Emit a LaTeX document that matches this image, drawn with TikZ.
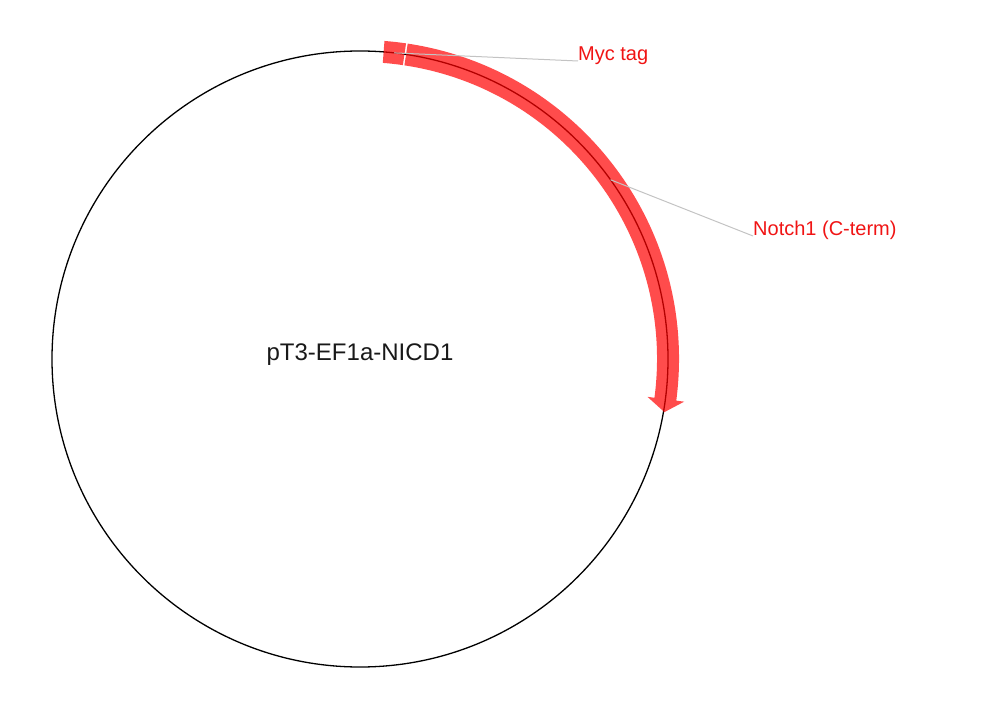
\documentclass[tikz,border=0pt]{standalone}
\usepackage{fontspec}
\setmainfont{Liberation Sans}
\definecolor{featred}{RGB}{255,0,0}
\definecolor{leadgray}{RGB}{195,195,195}
\definecolor{labred}{RGB}{240,20,20}
\begin{document}
\begin{tikzpicture}[x=1pt,y=1pt,
  backbone/.style={draw=black,line width=1.3pt},
  feature/.style={fill=featred,fill opacity=0.7,draw=none},
  leader/.style={draw=leadgray,line width=1pt},
  featlabel/.style={text=labred,font=\fontsize{20}{24}\selectfont,anchor=base west,inner sep=0pt},
  titlelabel/.style={text=black!90,font=\fontsize{24}{28}\selectfont,anchor=base,inner sep=0pt}]
\useasboundingbox (0,0) rectangle (981,726);
\coordinate (c) at (360,367);
\draw[backbone] (c) circle[radius=308];
% Myc tag segment
\fill[feature] ([shift={(85.6:297)}]c) arc[start angle=85.6,end angle=81.7,radius=297]
  -- ([shift={(81.7:319)}]c) arc[start angle=81.7,end angle=85.6,radius=319] -- cycle;
% Notch1 arrow
\fill[feature] ([shift={(81.4:319)}]c) arc[start angle=81.4,end angle=-7.5,radius=319]
  -- ([shift={(-7.5:327)}]c) -- ([shift={(-9.9:309)}]c) -- ([shift={(-7.5:290)}]c)
  -- ([shift={(-7.5:297)}]c) arc[start angle=-7.5,end angle=81.4,radius=297] -- cycle;
% leaders and labels
\coordinate (mycmid) at ([shift={(83.65:308)}]c);
\coordinate (notchmid) at ([shift={(35.6:308)}]c);
\node[featlabel] (myc) at (578,665) {Myc tag};
\node[featlabel] (notch) at (753,490) {Notch1 (C-term)};
\draw[leader] (mycmid) -- (myc.base west);
\draw[leader] (notchmid) -- (notch.base west);
\node[titlelabel] (title) at (360,365) {pT3-EF1a-NICD1};
\end{tikzpicture}
\end{document}
